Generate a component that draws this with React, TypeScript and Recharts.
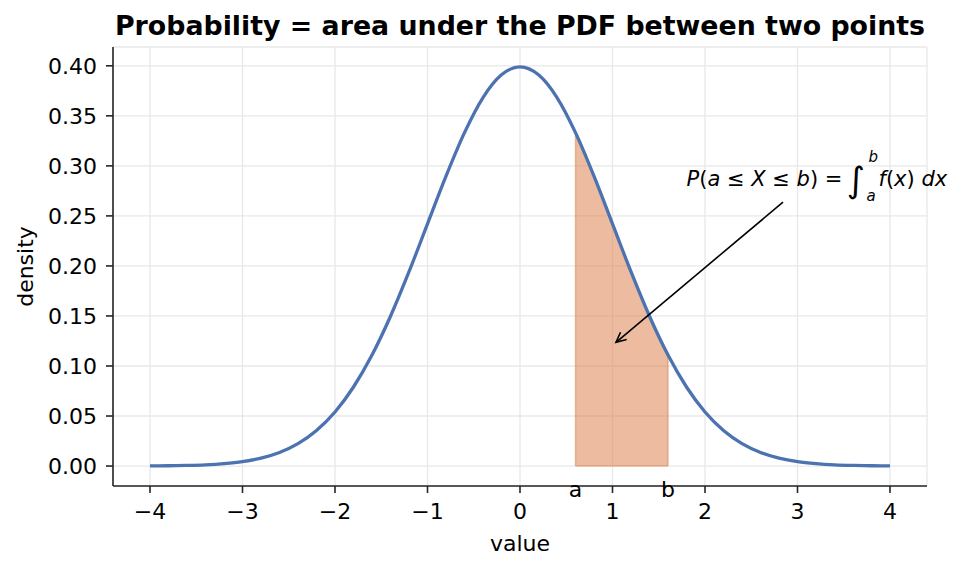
import React from 'react';
import {
  ComposedChart, Line, Area, XAxis, YAxis, CartesianGrid,
  ReferenceLine, ReferenceDot,
} from 'recharts';

// standard normal density, every 0.2
const XS = [
  -4.0, -3.8, -3.6, -3.4, -3.2, -3.0, -2.8, -2.6, -2.4, -2.2, -2.0,
  -1.8, -1.6, -1.4, -1.2, -1.0, -0.8, -0.6, -0.4, -0.2, 0.0,
  0.2, 0.4, 0.6, 0.8, 1.0, 1.2, 1.4, 1.6, 1.8, 2.0,
  2.2, 2.4, 2.6, 2.8, 3.0, 3.2, 3.4, 3.6, 3.8, 4.0,
];
const DENSITY = [
  0.0001, 0.0003, 0.0006, 0.0012, 0.0024, 0.0044, 0.0079, 0.0136, 0.0224, 0.0355, 0.0540,
  0.0790, 0.1109, 0.1497, 0.1942, 0.2420, 0.2897, 0.3332, 0.3683, 0.3910, 0.3989,
  0.3910, 0.3683, 0.3332, 0.2897, 0.2420, 0.1942, 0.1497, 0.1109, 0.0790, 0.0540,
  0.0355, 0.0224, 0.0136, 0.0079, 0.0044, 0.0024, 0.0012, 0.0006, 0.0003, 0.0001,
];

const A = 0.6;
const B = 1.6;

const X_TICKS = [-4, -3, -2, -1, 0, 1, 2, 3, 4];
const Y_TICKS = [0, 0.05, 0.1, 0.15, 0.2, 0.25, 0.3, 0.35, 0.4];

const TITLE = 'Probability = area under the PDF between two points';

const curve = XS.map((x, i) => ({ x, y: DENSITY[i] }));
const shaded = curve.filter((d) => d.x >= A - 1e-9 && d.x <= B + 1e-9);
const first = shaded[0];
const last = shaded[shaded.length - 1];

const BLUE = '#4C72B0';
const ORANGE = '#DD8452';
const INK = '#000';
const AXIS = '#262626';
const FONT = '"DejaVu Sans", sans-serif';

const fmtX = (v: number) => (v < 0 ? `\u2212${Math.abs(v)}` : `${v}`);

function Arrow(props: any) {
  const { x1, y1, x2, y2 } = props;
  const ang = Math.atan2(y2 - y1, x2 - x1);
  const len = 11;
  const spread = 0.45;
  const p1 = [x2 - len * Math.cos(ang - spread), y2 - len * Math.sin(ang - spread)];
  const p2 = [x2 - len * Math.cos(ang + spread), y2 - len * Math.sin(ang + spread)];
  return (
    <g stroke={INK} strokeWidth={1.6} fill="none">
      <line x1={x1} y1={y1} x2={x2} y2={y2} />
      <polyline points={`${p1[0]},${p1[1]} ${x2},${y2} ${p2[0]},${p2[1]}`} />
    </g>
  );
}

function Formula(props: any) {
  const { cx, cy } = props;
  const it = { fontStyle: 'italic' as const };
  return (
    <text fill={INK} fontSize={21} fontFamily={FONT}>
      <tspan x={cx} y={cy}>
        <tspan {...it}>P</tspan>(<tspan {...it}>a</tspan> ≤ <tspan {...it}>X</tspan> ≤{' '}
        <tspan {...it}>b</tspan>) =
      </tspan>
      <tspan x={cx + 160} y={cy + 6} fontSize={35}>∫</tspan>
      <tspan x={cx + 182} y={cy - 24} fontSize={15} {...it}>b</tspan>
      <tspan x={cx + 180} y={cy + 15} fontSize={15} {...it}>a</tspan>
      <tspan x={cx + 192} y={cy}>
        <tspan {...it}>f</tspan>(<tspan {...it}>x</tspan>) <tspan {...it}>dx</tspan>
      </tspan>
    </text>
  );
}

const endLabel = (txt: string) => (props: any) => (
  <text x={props.cx} y={props.cy + 31} textAnchor="middle" fontSize={22} fill={INK} fontFamily={FONT}>
    {txt}
  </text>
);

export default function App() {
  return (
    <div style={{ position: 'absolute', left: 0, top: 0, width: 963, height: 571, fontFamily: FONT, background: '#fff' }}>
      <ComposedChart width={963} height={571} data={curve} margin={{ top: 47, right: 36, bottom: 0, left: 0 }}>
        <CartesianGrid stroke="#e8e8e8" strokeWidth={1.3} />
        <XAxis
          dataKey="x" type="number" domain={[-4.4, 4.4]} ticks={X_TICKS} tickFormatter={fmtX}
          height={85} tickSize={7} tickMargin={10}
          stroke={AXIS} strokeWidth={1.6}
          tick={{ fontSize: 22, fill: INK }}
          label={{
            content: (p: any) => (
              <text x={p.viewBox.x + p.viewBox.width / 2} y={p.viewBox.y + 65} textAnchor="middle" fontSize={22} fill={INK}>
                value
              </text>
            ),
          }}
        />
        <YAxis
          type="number" domain={[-0.01995, 0.4188]} ticks={Y_TICKS} tickFormatter={(v: number) => v.toFixed(2)}
          width={113} tickSize={7} tickMargin={9}
          stroke={AXIS} strokeWidth={1.6}
          tick={{ fontSize: 22, fill: INK }}
          label={{
            content: (p: any) => {
              const cx = 25;
              const cy = p.viewBox.y + p.viewBox.height / 2;
              return (
                <text x={cx} y={cy} transform={`rotate(-90 ${cx} ${cy})`} textAnchor="middle" dominantBaseline="central" fontSize={22} fill={INK}>
                  density
                </text>
              );
            },
          }}
        />
        <Area
          data={shaded} dataKey="y" type="monotone" baseValue={0}
          fill={ORANGE} fillOpacity={0.55} stroke={ORANGE} strokeOpacity={0.6} strokeWidth={1.5}
          isAnimationActive={false} dot={false} activeDot={false}
        />
        <ReferenceLine segment={[{ x: first.x, y: 0 }, { x: first.x, y: first.y }]} stroke={ORANGE} strokeOpacity={0.5} strokeWidth={1.5} />
        <ReferenceLine segment={[{ x: last.x, y: 0 }, { x: last.x, y: last.y }]} stroke={ORANGE} strokeOpacity={0.5} strokeWidth={1.5} />
        <ReferenceLine segment={[{ x: first.x, y: 0 }, { x: last.x, y: 0 }]} stroke={ORANGE} strokeOpacity={0.5} strokeWidth={1.5} />
        <Line
          dataKey="y" type="monotone" stroke={BLUE} strokeWidth={3.3}
          dot={false} activeDot={false} isAnimationActive={false}
        />
        <ReferenceDot x={A} y={0} r={0} shape={endLabel('a')} />
        <ReferenceDot x={B} y={0} r={0} shape={endLabel('b')} />
        <ReferenceLine segment={[{ x: 2.843, y: 0.2637 }, { x: 1.038, y: 0.1237 }]} shape={Arrow} />
        <ReferenceDot x={1.8} y={0.28} r={0} shape={Formula} />
      </ComposedChart>
      <svg width={963} height={60} style={{ position: 'absolute', left: 0, top: 0, pointerEvents: 'none' }}>
        <text x={520} y={35} textAnchor="middle" fontSize={26.8} fontWeight="bold" fill={INK} fontFamily={FONT}>
          {TITLE}
        </text>
      </svg>
    </div>
  );
}
